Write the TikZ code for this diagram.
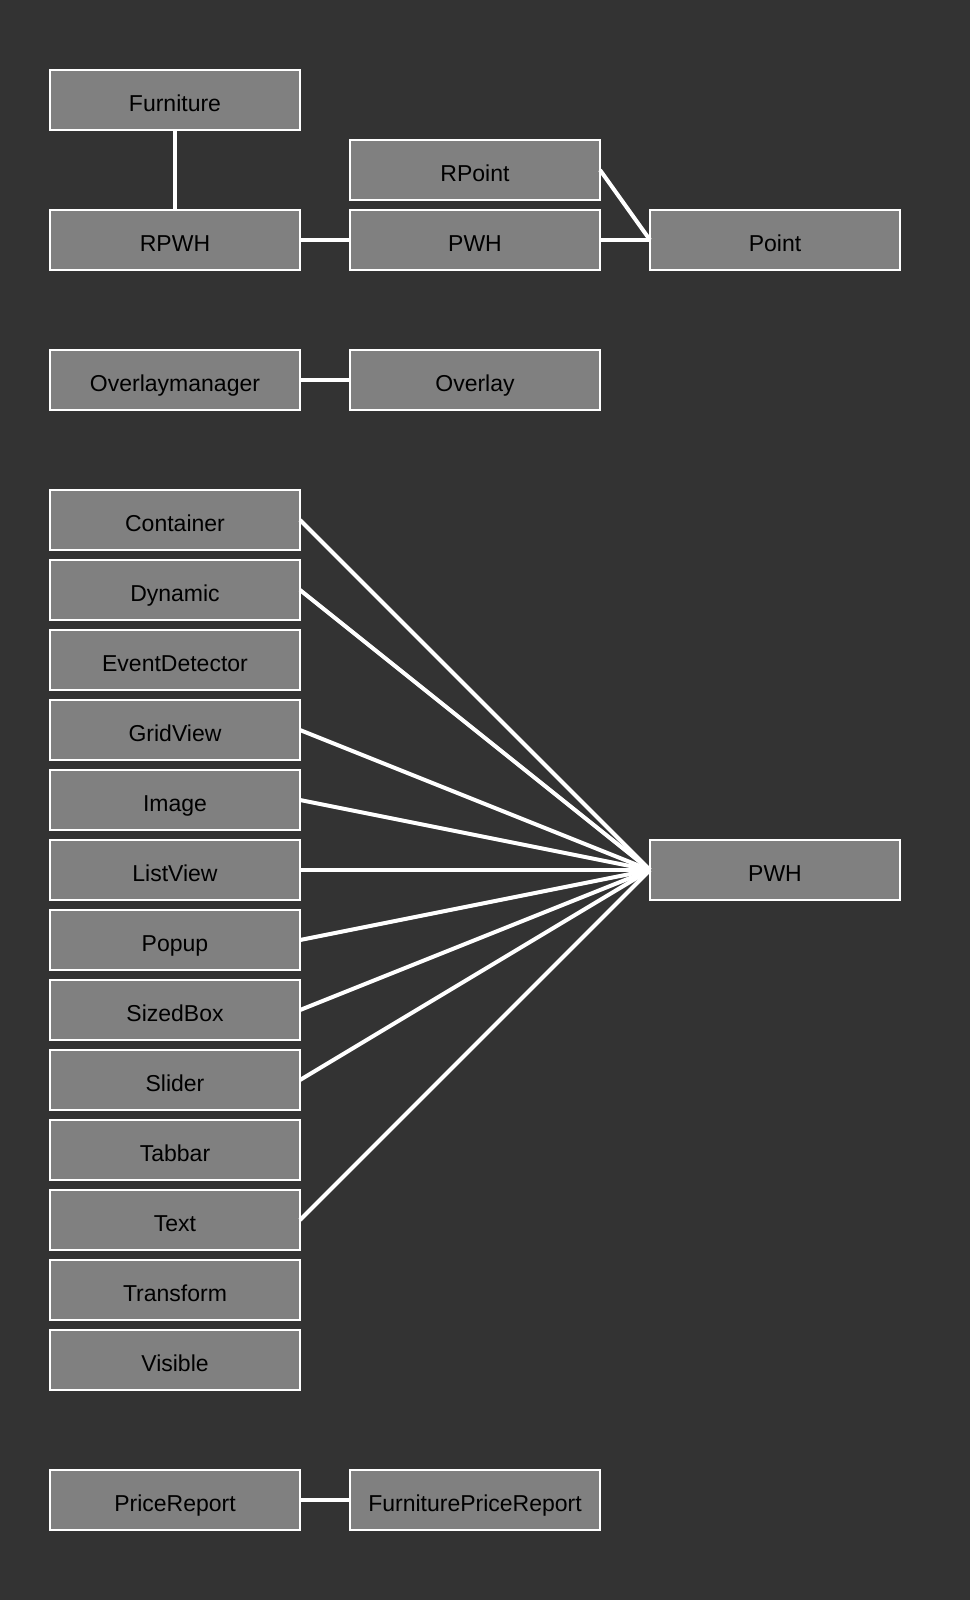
\documentclass[tikz,border=0pt]{standalone}
\usepackage{fontspec}
\setmainfont{Liberation Sans}
\usetikzlibrary{positioning}
\definecolor{bgdark}{HTML}{333333}
\definecolor{boxgray}{HTML}{808080}

\begin{document}
\begin{tikzpicture}[
    x=1pt, y=-1pt, % one unit is one pixel of the picture, y grows downwards
    node distance=10pt and 50pt,
    box/.style={
        draw=white, % white border round each class
        line width=1.5pt,
        fill=boxgray, % grey fill
        minimum width=250pt,
        minimum height=60pt,
        inner sep=0pt, outer sep=0pt,
        text height=23pt, text depth=0pt, % sets the label a little low
        text=black,
        font=\fontsize{23}{27}\selectfont
    },
    link/.style={draw=white, line width=4pt} % white connector
]
\fill[bgdark] (0,0) rectangle (970,1600);
\useasboundingbox (0,0) rectangle (970,1600);

% furniture group
\node[box] (furniture) at (175,100) {Furniture};
\node[box, below=80pt of furniture] (rpwh) {RPWH};
\node[box, right=50pt of rpwh] (pwh) {PWH};
\node[box, above=10pt of pwh] (rpoint) {RPoint};
\node[box, right=50pt of pwh] (point) {Point};

% overlay group
\node[box, below=80pt of rpwh] (overlaymanager) {Overlaymanager};
\node[box, right=50pt of overlaymanager] (overlay) {Overlay};

% widget group
\foreach \name [count=\i] in {Container,Dynamic,EventDetector,GridView,Image,ListView,Popup,SizedBox,Slider,Tabbar,Text,Transform,Visible}
    \node[box] (\name) at (175,450+70*\i) {\name};
\node[box] (pwhview) at (775,870) {PWH};

% report group
\node[box] (pricereport) at (175,1500) {PriceReport};
\node[box, right=50pt of pricereport] (furniturepricereport) {FurniturePriceReport};

\draw[link] (furniture) -- (rpwh);
\draw[link] (rpwh) -- (pwh);
\draw[link] (pwh) -- (point);
\draw[link] (rpoint.east) -- (point.west);
\draw[link] (overlaymanager) -- (overlay);
\foreach \src in {Container,Dynamic,GridView,Image,ListView,Popup,SizedBox,Slider,Text}
    \draw[link] (\src.east) -- (pwhview.west);
\draw[link] (pricereport) -- (furniturepricereport);
\end{tikzpicture}
\end{document}
